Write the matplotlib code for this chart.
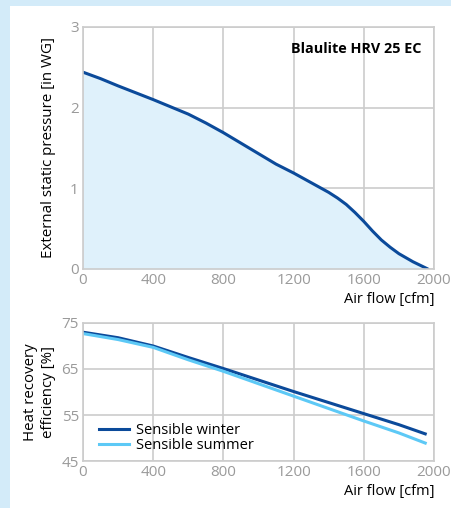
import matplotlib
matplotlib.use('Agg')
import matplotlib.pyplot as plt
import numpy as np

# pressure curve
flow_p = [0, 100, 200, 300, 400, 500, 600, 700, 800, 900, 1000, 1100, 1200, 1300,
          1400, 1450, 1500, 1550, 1600, 1650, 1700, 1750, 1800, 1880, 1965]
pressure = [2.44, 2.36, 2.27, 2.185, 2.10, 2.01, 1.92, 1.81, 1.69, 1.56, 1.43, 1.30, 1.19, 1.07,
            0.95, 0.88, 0.80, 0.70, 0.59, 0.47, 0.36, 0.27, 0.19, 0.09, 0.0]

# efficiency curves
flow_e = [0, 200, 400, 600, 800, 1000, 1200, 1400, 1600, 1800, 1950]
eff_winter = [73.0, 71.8, 70.0, 67.5, 65.1, 62.6, 60.1, 57.7, 55.3, 52.9, 50.9]
eff_summer = [72.7, 71.4, 69.7, 67.0, 64.5, 61.8, 59.1, 56.4, 53.7, 51.1, 48.9]

dark = '#0b4a9a'
light = '#5dc9f6'
fill = '#dff1fb'
grid = '#cccccc'
tickc = '#9a9a9a'

plt.rcParams['font.family'] = ['Open Sans', 'DejaVu Sans']
plt.rcParams['font.size'] = 10.5

fig = plt.figure(figsize=(4.51, 5.08), dpi=100)
fig.patch.set_facecolor('#d3ebf9')
bg = plt.Rectangle((10 / 451, 0), 1, 1 - 6 / 508, transform=fig.transFigure,
                   facecolor='white', edgecolor='none', zorder=-10)
fig.add_artist(bg)


def style(ax):
    ax.grid(True, color=grid, linewidth=1.2)
    ax.set_axisbelow(True)
    for s in ax.spines.values():
        s.set_color(grid)
        s.set_linewidth(1.2)
    ax.tick_params(length=0, colors=tickc, labelsize=11, pad=3)
    ax.set_xlim(0, 2000)
    ax.set_xticks([0, 400, 800, 1200, 1600, 2000])


ax1 = fig.add_axes([83 / 451, 1 - 269 / 508, 351 / 451, 242 / 508])
style(ax1)
ax1.fill_between(flow_p, pressure, 0, color=fill, linewidth=0)
ax1.plot(flow_p, pressure, color=dark, linewidth=2.2, solid_capstyle='round')
ax1.set_ylim(0, 3)
ax1.set_yticks([0, 1, 2, 3])
ax1.set_ylabel('External static pressure [in WG]', color='black', labelpad=10, fontsize=10.9)
ax1.text(0.965, 0.91, 'Blaulite HRV 25 EC', transform=ax1.transAxes, ha='right', va='center',
         fontweight='bold', fontsize=10.4)
fig.text(434 / 451, 1 - 300 / 508, 'Air flow [cfm]', ha='right', va='center', fontsize=10.5)

ax2 = fig.add_axes([83 / 451, 1 - 461 / 508, 351 / 451, 138 / 508])
style(ax2)
ax2.plot(flow_e, eff_winter, color=dark, linewidth=2.2, label='Sensible winter')
ax2.plot(flow_e, eff_summer, color=light, linewidth=2.2, label='Sensible summer')
ax2.set_ylim(45, 75)
ax2.set_yticks([45, 55, 65, 75])
ax2.set_ylabel('Heat recovery\nefficiency [%]', color='black', labelpad=4, linespacing=1.25,
               fontsize=10.8)
ax2.legend(loc='lower left', bbox_to_anchor=(0.03, 0.015), frameon=False, handlelength=2.0,
           handletextpad=0.5, labelspacing=0.0, borderaxespad=0, fontsize=10.5)
fig.text(434 / 451, 1 - 491 / 508, 'Air flow [cfm]', ha='right', va='center', fontsize=10.5)

plt.savefig('out.png', dpi=100, facecolor=fig.get_facecolor())
